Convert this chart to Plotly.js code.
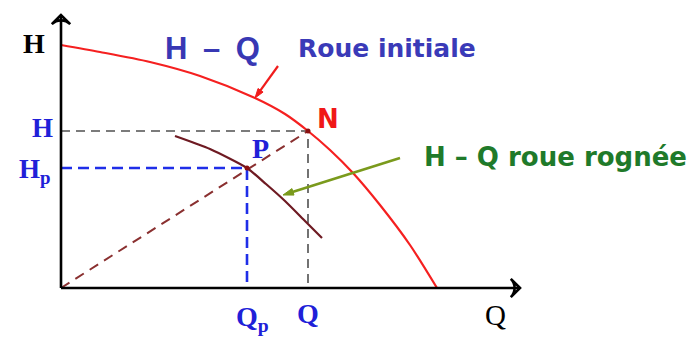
<!DOCTYPE html>
<html>
<head>
<meta charset="utf-8">
<script src="https://cdn.plot.ly/plotly-3.0.1.min.js"></script>
<style>
  html, body { margin: 0; padding: 0; background: #ffffff; }
  #chart { width: 694px; height: 338px; }
</style>
</head>
<body>
<div id="chart"></div>
<script>
// Courbe H-Q de la roue initiale (débit Q, hauteur H)
const qInitiale = [0, 39, 89, 139, 194, 224, 247, 269, 292, 319, 349, 376];
const hInitiale = [243, 236, 226, 212, 190, 174, 157, 138, 115, 83, 43, 0];

// Courbe H-Q de la roue rognée
const qRognee = [114, 149, 186, 205, 224, 244, 261];
const hRognee = [152, 139, 120, 104, 87, 67, 50];

// Point de fonctionnement N (roue initiale) et P (roue rognée)
const pointN = { q: 247, h: 157 };
const pointP = { q: 186, h: 120 };

// Étendue des axes tracés à la main
const axeQmax = 459;
const axeHmax = 273;

// Flèches d'étiquette : origine (q0, h0) et pointe (q, h)
const flecheRouge = { q: 194, h: 190, q0: 217, h0: 222 };
const flecheVerte = { q: 222, h: 93, q0: 339, h0: 130 };

const serif = "Liberation Serif, Times New Roman, serif";
const sans = "DejaVu Sans, Arial, sans-serif";
const sansEtroite = "Liberation Sans, Arial, sans-serif";

// segment terminé par une pointe de flèche (symbole orienté selon le segment)
function fleche(q0, h0, q1, h1, couleur, epaisseur, symbole, taille, bord) {
  return {
    x: [q0, q1], y: [h0, h1],
    mode: "lines+markers",
    line: { color: couleur, width: epaisseur },
    marker: {
      symbol: ["circle", symbole], size: [0, taille], color: couleur, opacity: 1,
      angleref: "previous", line: { color: couleur, width: bord }
    },
    hoverinfo: "skip", cliponaxis: false
  };
}

const traces = [
  // repères horizontaux et verticaux de N (gris, tirets)
  {
    x: [0, pointN.q, pointN.q], y: [pointN.h, pointN.h, 0],
    mode: "lines", line: { color: "#505050", width: 1.6, dash: "9px,6px" },
    hoverinfo: "skip"
  },
  // repères de P (bleu, tirets)
  {
    x: [0, pointP.q, pointP.q], y: [pointP.h, pointP.h, 0],
    mode: "lines", line: { color: "#1f2ee8", width: 2.6, dash: "11px,6px" },
    hoverinfo: "skip"
  },
  // droite de similitude passant par l'origine et N
  {
    x: [0, pointN.q], y: [0, pointN.h],
    mode: "lines", line: { color: "#8a3030", width: 2, dash: "10px,7px" },
    hoverinfo: "skip"
  },
  // courbe roue initiale
  {
    x: qInitiale, y: hInitiale,
    mode: "lines", line: { color: "#f52020", width: 2.2, shape: "spline", smoothing: 0.8 },
    hoverinfo: "skip"
  },
  // courbe roue rognée
  {
    x: qRognee, y: hRognee,
    mode: "lines", line: { color: "#6e1a22", width: 2.2, shape: "spline", smoothing: 0.6 },
    hoverinfo: "skip"
  },
  // points N et P
  {
    x: [pointN.q, pointP.q], y: [pointN.h, pointP.h],
    mode: "markers", marker: { color: "#8a1010", size: 5 },
    hoverinfo: "skip"
  },
  // axes H et Q
  fleche(0, 0, 0, axeHmax, "#000000", 2.6, "arrow-wide-open", 13, 2.6),
  fleche(0, 0, axeQmax, 0, "#000000", 2.6, "arrow-wide-open", 13, 2.6),
  // flèches des légendes de courbes
  fleche(flecheRouge.q0, flecheRouge.h0, flecheRouge.q, flecheRouge.h, "#f01c1c", 2.2, "arrow", 10, 1),
  fleche(flecheVerte.q0, flecheVerte.h0, flecheVerte.q, flecheVerte.h, "#7a9a1c", 2.6, "arrow", 11, 1)
];

const annotations = [
  // titres d'axes
  {
    x: 0, y: hInitiale[0], xref: "x", yref: "y", xshift: -27, yshift: 2,
    text: "H", showarrow: false,
    font: { family: serif, size: 28, color: "#000000", weight: "bold" }
  },
  {
    x: axeQmax, y: 0, xref: "x", yref: "y", xshift: -25, yshift: -27,
    text: "Q", showarrow: false,
    font: { family: serif, size: 29, color: "#000000" }
  },
  // graduations nommées
  {
    x: 0, y: pointN.h, xref: "x", yref: "y", xshift: -19, yshift: 3,
    text: "H", showarrow: false,
    font: { family: serif, size: 27, color: "#2020d8", weight: "bold" }
  },
  {
    x: 0, y: pointP.h, xref: "x", yref: "y", xshift: -8, yshift: -3,
    xanchor: "right",
    text: "H<sub>p</sub>", showarrow: false,
    font: { family: serif, size: 27, color: "#2020d8", weight: "bold" }
  },
  {
    x: pointN.q, y: 0, xref: "x", yref: "y", xshift: 0, yshift: -25,
    text: "Q", showarrow: false,
    font: { family: serif, size: 28, color: "#2020d8", weight: "bold" }
  },
  {
    x: pointP.q, y: 0, xref: "x", yref: "y", xshift: -13, yshift: -30,
    xanchor: "left",
    text: "Q<sub>p</sub>", showarrow: false,
    font: { family: serif, size: 28, color: "#2020d8", weight: "bold" }
  },
  // noms des points
  {
    x: pointN.q, y: pointN.h, xref: "x", yref: "y", xshift: 20, yshift: 12,
    text: "N", showarrow: false,
    font: { family: sans, size: 26, color: "#f01818", weight: "bold" }
  },
  {
    x: pointP.q, y: pointP.h, xref: "x", yref: "y", xshift: 13, yshift: 20,
    text: "P", showarrow: false,
    font: { family: serif, size: 28, color: "#2020d8", weight: "bold" }
  },
  // légendes des courbes
  {
    x: 151, y: 240, xref: "x", yref: "y",
    text: "H\u2002\u2013\u2002Q", showarrow: false,
    font: { family: sansEtroite, size: 31, color: "#3838b4", weight: "bold" }
  },
  {
    x: 326, y: 240, xref: "x", yref: "y",
    text: "Roue initiale", showarrow: false,
    font: { family: sans, size: 25, color: "#3a3ab8", weight: "bold" }
  },
  {
    x: 494, y: 131, xref: "x", yref: "y",
    text: "H \u2013 Q roue rognée", showarrow: false,
    font: { family: sans, size: 26, color: "#1f7a2a", weight: "bold" }
  }
];

const layout = {
  width: 694, height: 338,
  margin: { l: 0, r: 0, t: 0, b: 0, pad: 0 },
  paper_bgcolor: "#ffffff", plot_bgcolor: "#ffffff",
  showlegend: false,
  xaxis: { range: [-61, 633], visible: false, fixedrange: true },
  yaxis: { range: [-50, 288], visible: false, fixedrange: true },
  annotations: annotations
};

Plotly.newPlot("chart", traces, layout, { displayModeBar: false, staticPlot: true });
</script>
</body>
</html>
